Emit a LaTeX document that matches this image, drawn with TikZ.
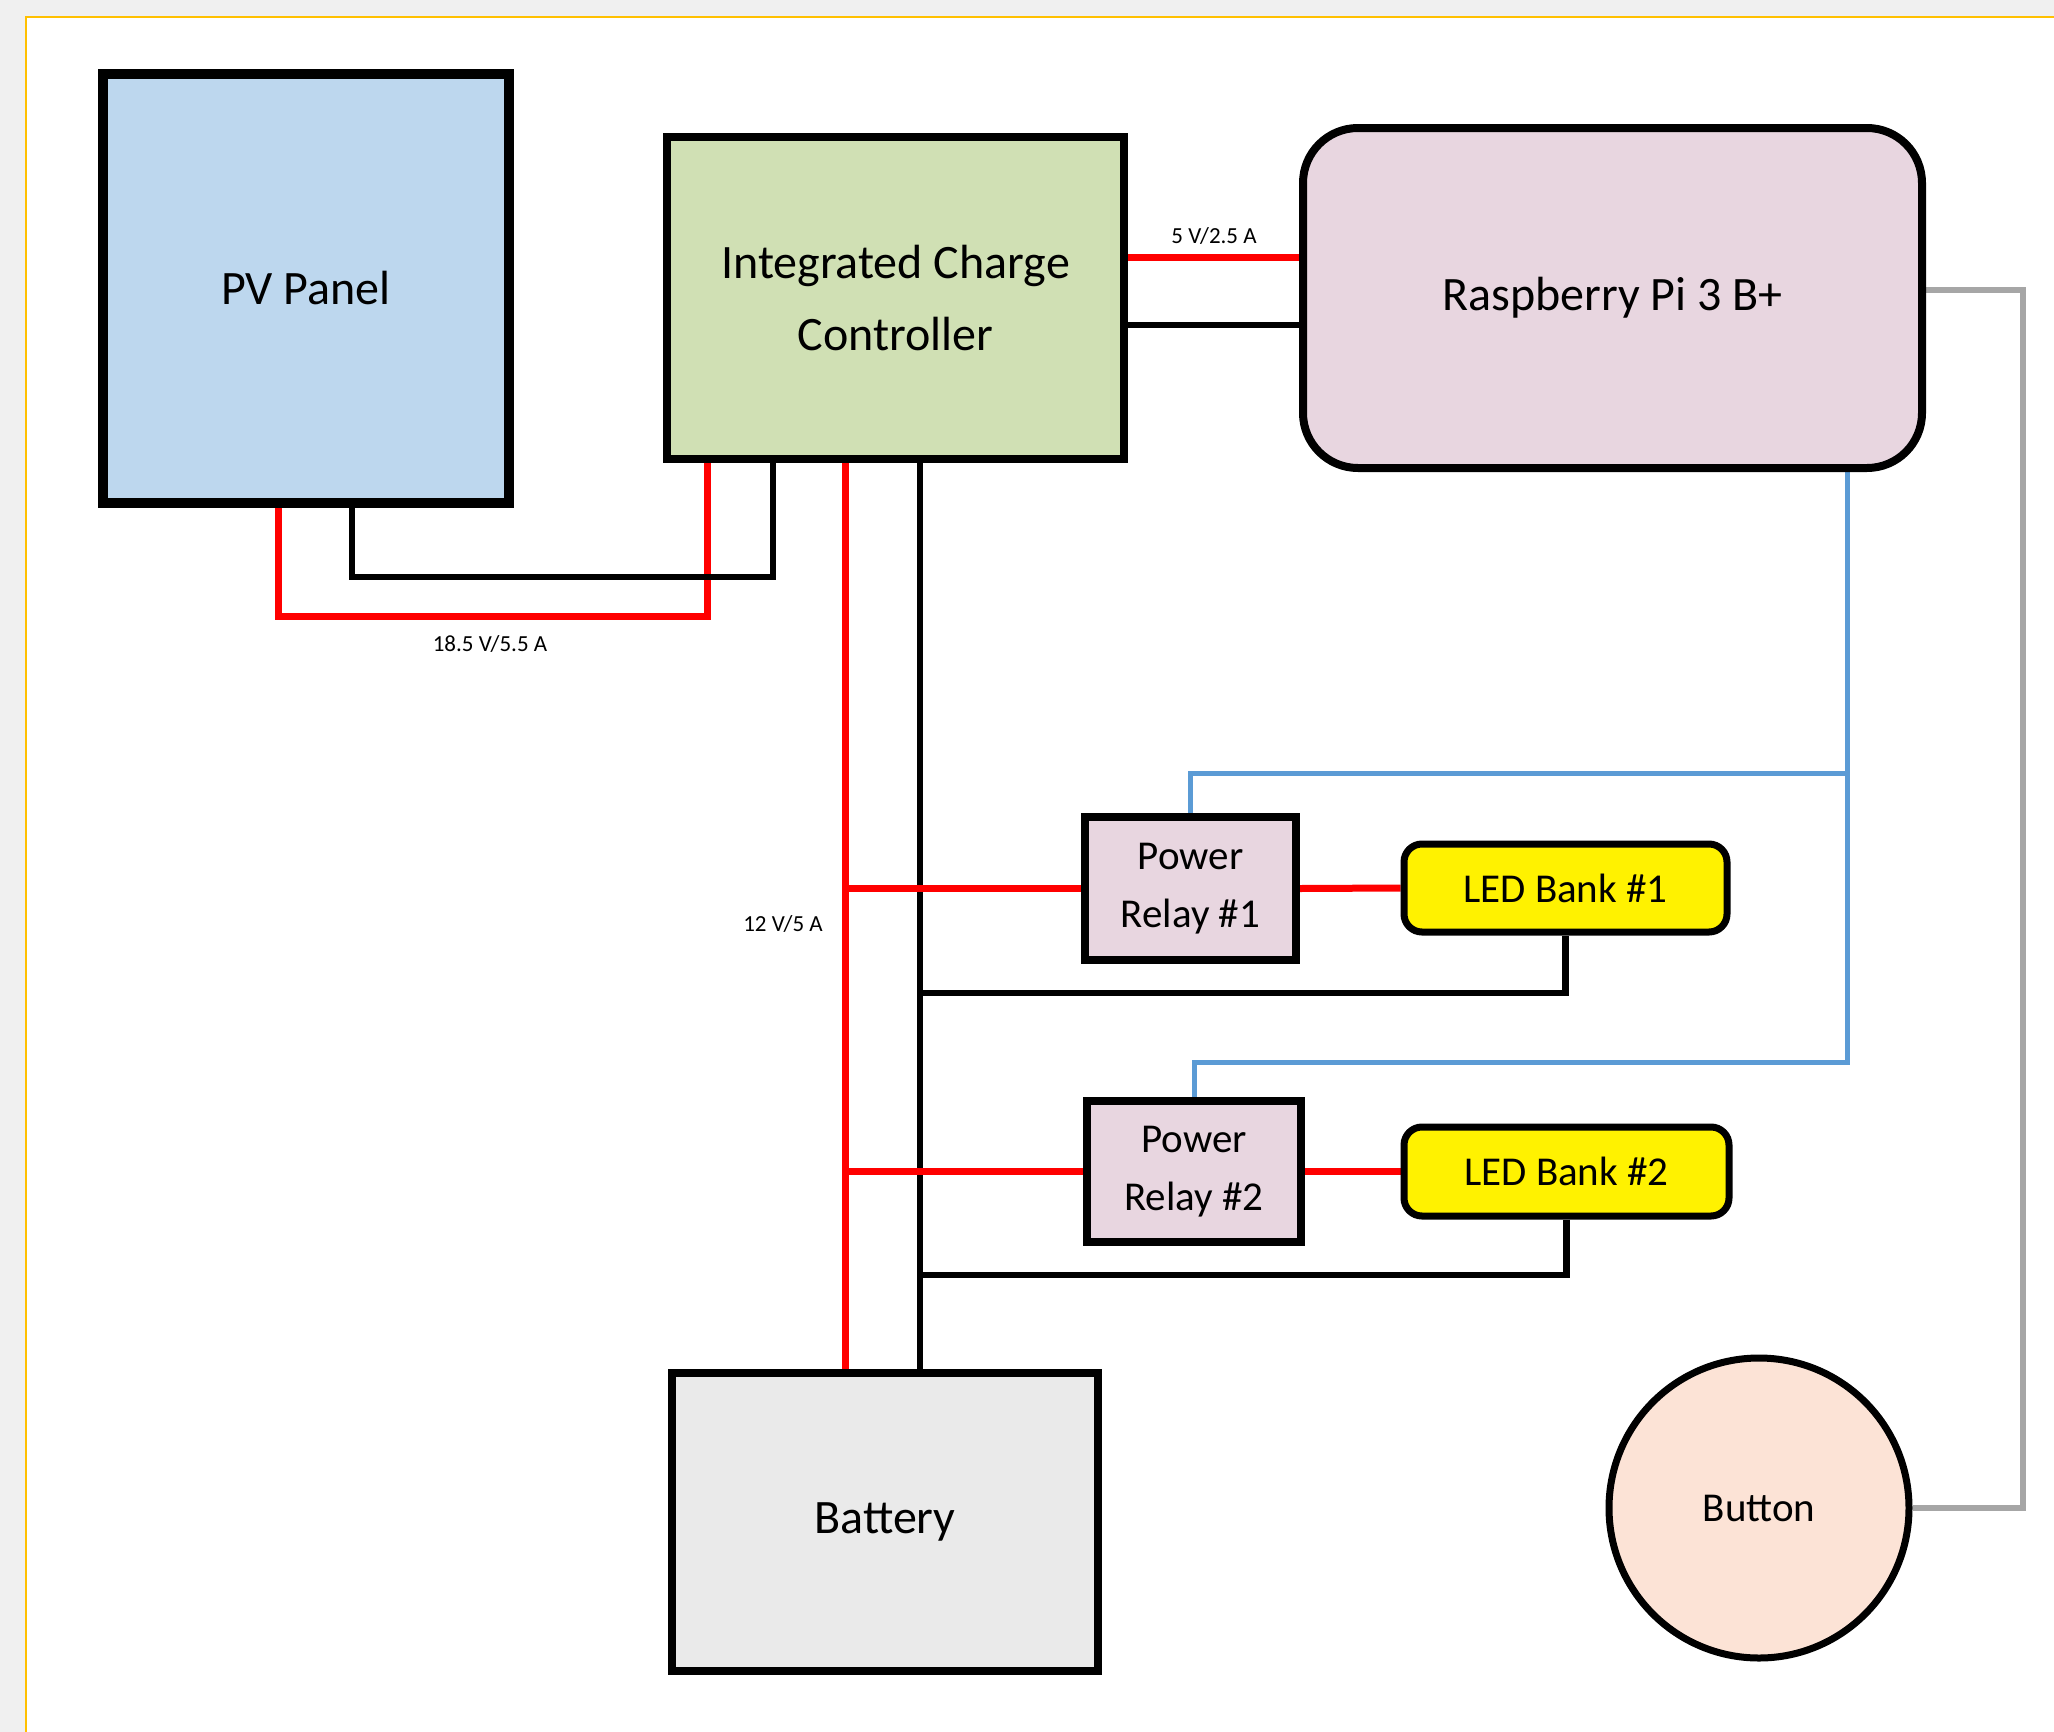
\documentclass[tikz,border=0pt]{standalone}
\usepackage{fontspec}
\setmainfont{Carlito}
\usetikzlibrary{backgrounds,calc}
\definecolor{pvblue}{HTML}{BDD7EE}
\definecolor{iccgreen}{HTML}{D0E0B4}
\definecolor{pilav}{HTML}{E8D6E0}
\definecolor{batgray}{HTML}{EAEAEA}
\definecolor{btnpeach}{HTML}{FCE3D6}
\definecolor{wireblue}{HTML}{5B9BD5}
\definecolor{wiregray}{HTML}{A6A6A6}
\definecolor{pagegray}{HTML}{F0F0F0}
\definecolor{pageorange}{HTML}{FFC000}
\tikzset{
  box/.style={draw=black, line width=8pt, inner sep=0pt, align=center, text=black},
  bigtxt/.style={font=\fontsize{48}{72}\selectfont},
  midtxt/.style={font=\fontsize{41}{58}\selectfont},
  smalltxt/.style={font=\fontsize{23}{28}\selectfont, inner sep=0pt},
  redw/.style={draw=red, line width=7pt},
  blackw/.style={draw=black, line width=6.5pt},
  bluew/.style={draw=wireblue, line width=5pt},
  grayw/.style={draw=wiregray, line width=6pt},
}
\begin{document}
\begin{tikzpicture}[x=1pt,y=-1pt]
\useasboundingbox (0,0) rectangle (2054,1732);
\begin{pgfonlayer}{background}
  \fill[pagegray] (0,0) rectangle (2054,1732);
  \draw[fill=white, draw=pageorange, line width=2pt] (26,17) rectangle (2070,1750);
\end{pgfonlayer}

% nodes
\node[box, bigtxt, fill=pvblue, line width=10pt, minimum width=406pt, minimum height=429pt] (pv) at (306,288.5) {PV Panel};
\node[box, bigtxt, fill=iccgreen, minimum width=457pt, minimum height=322pt] (icc) at (895.5,298) {Integrated Charge\\Controller};
\node[box, bigtxt, fill=pilav, rounded corners=55pt, minimum width=619pt, minimum height=340pt] (rpi) at (1612.5,298) {Raspberry Pi 3 B+};
\node[box, midtxt, fill=pilav, minimum width=211pt, minimum height=143pt] (relay1) at (1190.5,888.5) {Power\\Relay \#1};
\node[box, midtxt, fill=pilav, minimum width=214pt, minimum height=141pt] (relay2) at (1194,1171.5) {Power\\Relay \#2};
\node[box, midtxt, fill=yellow, line width=7pt, rounded corners=18pt, minimum width=323pt, minimum height=88pt] (led1) at (1565.5,888) {LED Bank \#1};
\node[box, midtxt, fill=yellow, line width=7pt, rounded corners=18pt, minimum width=325pt, minimum height=89pt] (led2) at (1566.5,1171.5) {LED Bank \#2};
\node[box, bigtxt, fill=batgray, minimum width=426pt, minimum height=298pt] (bat) at (885,1522) {Battery};
\node[box, midtxt, fill=btnpeach, line width=7pt, circle, minimum size=300pt] (btn) at (1759,1508) {Button};

% labels
\node[smalltxt] (l1) at (490,644) {18.5 V/5.5 A};
\node[smalltxt] (l2) at (1214,236) {5 V/2.5 A};
\node[smalltxt] (l3) at (783,924) {12 V/5 A};

\coordinate (redbus) at ([xshift=-50.5pt]icc.south);
\coordinate (blkbus) at ([xshift=24.5pt]icc.south);
\coordinate (bluebus) at ([xshift=234.5pt]rpi.south);

\begin{pgfonlayer}{background}
  % PV to controller
  \draw[redw] ([xshift=-28pt]pv.south) -- ++(0,108) -| ([xshift=-188.5pt]icc.south);
  \draw[blackw] ([xshift=46pt]pv.south) -- ++(0,69) -| ([xshift=-122.5pt]icc.south);
  % controller to Pi
  \draw[redw] ([yshift=41pt]icc.east) -- ([yshift=41pt]rpi.west);
  \draw[blackw] ([yshift=-27pt]icc.east) -- ([yshift=-27pt]rpi.west);
  % controller to battery
  \draw[redw] (redbus) -- ([xshift=-40pt]bat.north);
  \draw[blackw] (blkbus) -- ([xshift=35pt]bat.north);
  % relays
  \draw[redw] (redbus |- relay1.west) -- (relay1.west);
  \draw[redw] (relay1.east) -- (led1.west);
  \draw[redw] (redbus |- relay2.west) -- (relay2.west);
  \draw[redw] (relay2.east) -- (led2.west);
  \draw[blackw] (led1.south) |- ($(blkbus)+(0,530)$);
  \draw[blackw] (led2.south) |- ($(blkbus)+(0,812)$);
  % control lines
  \draw[bluew] (bluebus) -- ++(0,590) -| (relay2.north);
  \draw[bluew] (bluebus |- 0,773) -| (relay1.north);
  \draw[grayw] ([yshift=8pt]rpi.east) -| ($(btn.east)+(110,0)$) -- (btn.east);
\end{pgfonlayer}
\end{tikzpicture}
\end{document}
